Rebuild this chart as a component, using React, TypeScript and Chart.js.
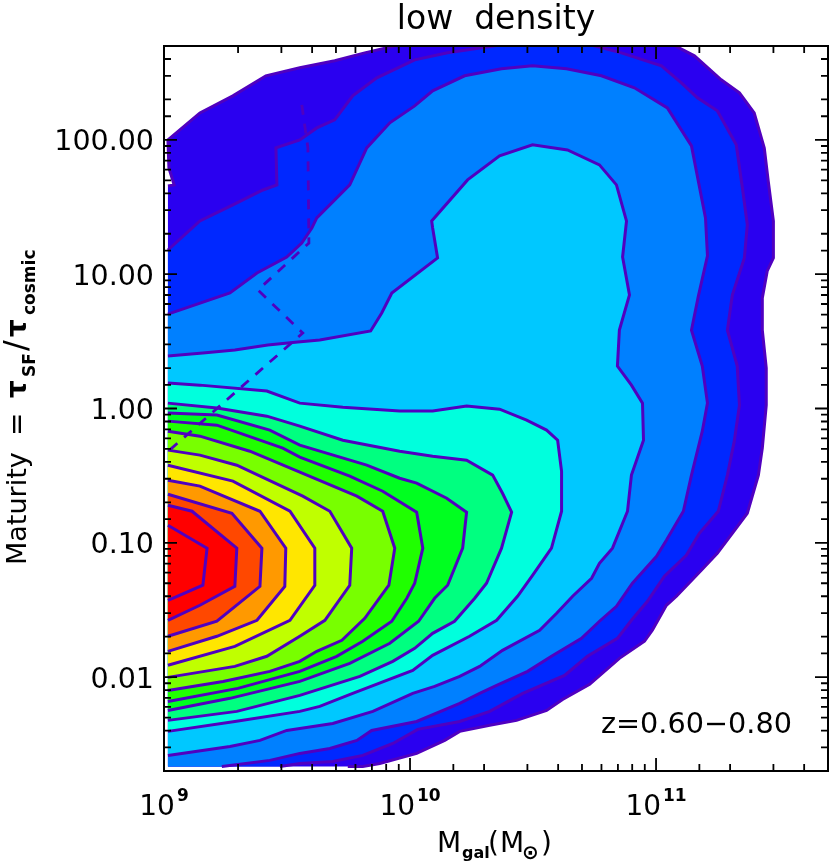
import React, { useEffect, useRef } from "react";
import { Chart, registerables } from "chart.js";

Chart.register(...registerables);

const FONT = '"DejaVu Sans"';
const LINE = "#5000c0";

// Contour levels: pairs of [log10 M_gal, log10 maturity].
const level1 = [[9.016,1.657],[9.041,1.665],[9.02,1.791],[9.016,2],[9.146,2.201],[9.28,2.328],[9.414,2.477],[9.552,2.537],[9.694,2.589],[9.816,2.648],[9.958,2.708],[9.999,2.723],[10.08,2.83],[11.062,2.83],[11.062,2.715],[11.156,2.626],[11.265,2.447],[11.339,2.35],[11.399,2.201],[11.44,1.94],[11.456,1.694],[11.477,1.396],[11.477,1.121],[11.452,1.024],[11.432,0.823],[11.432,0.584],[11.448,0.301],[11.448,0.025],[11.432,-0.295],[11.416,-0.496],[11.371,-0.78],[11.31,-0.929],[11.249,-1.078],[11.184,-1.204],[11.083,-1.398],[11.042,-1.465],[10.985,-1.651],[10.953,-1.733],[10.851,-1.86],[10.73,-2.054],[10.62,-2.166],[10.555,-2.248],[10.433,-2.322],[10.324,-2.359],[10.202,-2.404],[10.141,-2.471],[10.027,-2.568],[9.877,-2.643],[9.808,-2.665],[9.747,-2.665]];
const level2 = [[9.016,1.18],[9.146,1.396],[9.28,1.516],[9.402,1.627],[9.459,1.665],[9.455,1.94],[9.552,2],[9.621,2.089],[9.694,2.149],[9.767,2.328],[9.865,2.462],[10.019,2.596],[10.153,2.648],[10.291,2.686],[10.425,2.723],[10.486,2.78],[10.648,2.78],[10.701,2.723],[10.859,2.648],[11.022,2.551],[11.103,2.425],[11.168,2.313],[11.249,2.216],[11.326,1.963],[11.351,1.642],[11.371,1.367],[11.359,1.121],[11.31,0.845],[11.29,0.584],[11.33,0.316],[11.339,0.025],[11.318,-0.243],[11.29,-0.496],[11.253,-0.765],[11.176,-0.929],[11.123,-1.093],[11.034,-1.249],[10.965,-1.435],[10.9,-1.577],[10.843,-1.711],[10.721,-1.845],[10.628,-1.987],[10.458,-2.121],[10.324,-2.255],[10.202,-2.33],[10.031,-2.389],[9.93,-2.494],[9.808,-2.583],[9.686,-2.628],[9.552,-2.643],[9.471,-2.665]];
const level3 = [[9.016,0.703],[9.268,0.86],[9.378,1.009],[9.499,1.128],[9.56,1.232],[9.601,1.344],[9.621,1.419],[9.755,1.665],[9.824,1.94],[9.918,2.127],[10.019,2.253],[10.092,2.365],[10.222,2.477],[10.372,2.529],[10.498,2.551],[10.636,2.529],[10.778,2.477],[10.912,2.388],[11.046,2.238],[11.144,1.955],[11.201,1.419],[11.209,1.136],[11.172,0.837],[11.144,0.584],[11.188,0.316],[11.209,0.04],[11.188,-0.169],[11.144,-0.496],[11.111,-0.765],[11.042,-0.981],[11.002,-1.1],[10.904,-1.301],[10.839,-1.473],[10.77,-1.584],[10.697,-1.711],[10.575,-1.845],[10.478,-1.957],[10.352,-2.061],[10.283,-2.121],[10.202,-2.196],[10.027,-2.33],[9.844,-2.397],[9.784,-2.471],[9.674,-2.531],[9.552,-2.568],[9.43,-2.62],[9.235,-2.665]];
const level4 = [[9.016,0.39],[9.158,0.413],[9.288,0.435],[9.422,0.472],[9.544,0.495],[9.633,0.51],[9.84,0.577],[9.885,0.711],[9.926,0.86],[10.112,1.121],[10.092,1.344],[10.088,1.396],[10.234,1.702],[10.364,1.881],[10.498,1.963],[10.64,1.925],[10.77,1.814],[10.839,1.665],[10.88,1.396],[10.864,1.128],[10.892,0.845],[10.851,0.584],[10.843,0.316],[10.9,0.174],[10.945,0.04],[10.949,-0.236],[10.9,-0.496],[10.884,-0.765],[10.823,-1.04],[10.77,-1.152],[10.738,-1.264],[10.661,-1.398],[10.596,-1.525],[10.527,-1.651],[10.376,-1.801],[10.283,-1.92],[10.202,-1.994],[10.1,-2.069],[10.011,-2.121],[9.849,-2.255],[9.686,-2.345],[9.552,-2.382],[9.499,-2.397],[9.39,-2.471],[9.268,-2.516],[9.016,-2.583]];
const level5 = [[9.016,0.189],[9.146,0.174],[9.418,0.13],[9.552,0.04],[9.727,0.01],[9.958,-0.019],[10.092,-0.019],[10.23,0.018],[10.364,-0.005],[10.474,-0.087],[10.555,-0.161],[10.6,-0.236],[10.616,-0.467],[10.616,-0.765],[10.575,-1.04],[10.498,-1.242],[10.437,-1.398],[10.352,-1.577],[10.242,-1.696],[10.092,-1.838],[10.011,-1.95],[9.767,-2.121],[9.633,-2.218],[9.552,-2.255],[9.288,-2.33],[9.016,-2.404]];
const level6 = [[9.016,0.04],[9.215,0.003],[9.418,-0.057],[9.552,-0.131],[9.727,-0.236],[9.958,-0.318],[10.092,-0.355],[10.23,-0.385],[10.336,-0.496],[10.376,-0.631],[10.413,-0.772],[10.372,-1.04],[10.311,-1.301],[10.263,-1.413],[10.181,-1.584],[10.092,-1.674],[10.019,-1.786],[9.93,-1.883],[9.796,-1.994],[9.552,-2.136],[9.296,-2.255],[9.016,-2.322]];
const level7 = [[9.016,-0.034],[9.215,-0.049],[9.43,-0.161],[9.552,-0.273],[9.824,-0.422],[9.958,-0.519],[10.027,-0.556],[10.149,-0.668],[10.23,-0.772],[10.214,-1.04],[10.153,-1.316],[10.1,-1.413],[10.035,-1.584],[9.918,-1.748],[9.755,-1.897],[9.552,-2.032],[9.268,-2.158],[9.016,-2.248]];
const level8 = [[9.016,-0.094],[9.215,-0.124],[9.483,-0.295],[9.552,-0.362],[9.755,-0.504],[9.889,-0.616],[10.027,-0.772],[10.052,-1.04],[10.019,-1.301],[9.987,-1.413],[9.926,-1.584],[9.808,-1.733],[9.702,-1.845],[9.552,-1.957],[9.3,-2.084],[9.016,-2.181]];
const level9 = [[9.016,-0.169],[9.146,-0.206],[9.349,-0.318],[9.552,-0.474],[9.784,-0.653],[9.889,-0.765],[9.938,-1.04],[9.914,-1.316],[9.816,-1.562],[9.723,-1.726],[9.621,-1.808],[9.552,-1.883],[9.43,-1.957],[9.24,-2.032],[9.016,-2.099]];
const level10 = [[9.016,-0.31],[9.146,-0.347],[9.296,-0.422],[9.564,-0.653],[9.674,-0.765],[9.763,-1.04],[9.755,-1.316],[9.654,-1.577],[9.552,-1.696],[9.418,-1.845],[9.288,-1.92],[9.016,-2.002]];
const level11 = [[9.016,-0.422],[9.28,-0.541],[9.512,-0.765],[9.613,-1.04],[9.613,-1.316],[9.512,-1.577],[9.288,-1.771],[9.016,-1.912]];
const level12 = [[9.016,-0.534],[9.146,-0.578],[9.39,-0.765],[9.495,-1.04],[9.491,-1.324],[9.378,-1.577],[9.215,-1.696],[9.016,-1.808]];
const level13 = [[9.016,-0.638],[9.276,-0.78],[9.398,-1.04],[9.39,-1.324],[9.215,-1.584],[9.016,-1.696]];
const level14 = [[9.016,-0.72],[9.114,-0.765],[9.296,-1.04],[9.288,-1.324],[9.146,-1.465],[9.016,-1.577]];
const level15 = [[9.016,-0.869],[9.175,-1.04],[9.158,-1.316],[9.016,-1.428]];
const maturityTrack = [[9.56,2.261],[9.585,1.94],[9.589,1.232],[9.382,0.882],[9.564,0.562],[9.004,-0.34]];

const levels = [level1,level2,level3,level4,level5,level6,level7,level8,level9,level10,level11,level12,level13,level14,level15];
const levelColors = ["#2a00f0","#0028ff","#0080ff","#00c8ff","#00ffdd","#00ff80","#00ff20","#20ff00","#78ff00","#c0ff00","#ffe600","#ff9900","#ff4800","#ff0000","#ff0000"];

const toPoints = (pairs: number[][]) => pairs.map(([m, t]) => ({ x: 10 ** m, y: 10 ** t }));
const isDecade = (v: number) => Math.abs(Math.log10(v) - Math.round(Math.log10(v))) < 1e-6;

const contourFill = {
  id: "contourFill",
  beforeDatasetsDraw(chart: any) {
    const { ctx, chartArea: a, scales } = chart;
    ctx.save();
    ctx.beginPath();
    ctx.rect(a.left, a.top, a.right - a.left, a.bottom - a.top);
    ctx.clip();
    chart.data.datasets.forEach((ds: any) => {
      if (!ds.contour) return;
      const pts = ds.data;
      ctx.beginPath();
      pts.forEach((p: any, i: number) => {
        const x = scales.x.getPixelForValue(p.x);
        const y = scales.y.getPixelForValue(p.y);
        if (i) ctx.lineTo(x, y);
        else ctx.moveTo(x, y);
      });
      const first = pts[0];
      const last = pts[pts.length - 1];
      if (last.x > first.x * 1.01) {
        ctx.lineTo(scales.x.getPixelForValue(first.x), scales.y.getPixelForValue(last.y));
      }
      ctx.closePath();
      ctx.fillStyle = ds.backgroundColor;
      ctx.fill();
    });
    ctx.restore();
  },
};

const axesBox = {
  id: "axesBox",
  afterDatasetsDraw(chart: any) {
    const { ctx, chartArea: a, scales } = chart;
    ctx.save();
    ctx.strokeStyle = "#000";
    ctx.lineWidth = 1.8;
    ctx.beginPath();
    scales.x.ticks.forEach((t: any) => {
      const px = scales.x.getPixelForValue(t.value);
      const len = isDecade(t.value) ? 13 : 7;
      ctx.moveTo(px, a.bottom);
      ctx.lineTo(px, a.bottom - len);
      ctx.moveTo(px, a.top);
      ctx.lineTo(px, a.top + len);
    });
    scales.y.ticks.forEach((t: any) => {
      const py = scales.y.getPixelForValue(t.value);
      const len = isDecade(t.value) ? 13 : 7;
      ctx.moveTo(a.left, py);
      ctx.lineTo(a.left + len, py);
      ctx.moveTo(a.right, py);
      ctx.lineTo(a.right - len, py);
    });
    ctx.stroke();
    ctx.lineWidth = 2;
    ctx.strokeRect(a.left, a.top, a.right - a.left, a.bottom - a.top);
    ctx.restore();
  },
};

const xTitleParts: [string, string, number, number][] = [
  ["M", `28px ${FONT}`, 437, 852],
  ["gal", `bold 16px ${FONT}`, 462, 858],
  ["(", `28px ${FONT}`, 488, 852],
  ["M", `28px ${FONT}`, 500, 852],
  ["\u2299", `bold 20px ${FONT}`, 522, 859],
  [")", `28px ${FONT}`, 541, 852],
];
const yTitleParts: [string, string, number, number][] = [
  ["Maturity", `27px ${FONT}`, 565, 26],
  ["=", `28px ${FONT}`, 436, 26],
  ["\u03c4", `bold 28px ${FONT}`, 398, 26],
  ["SF", `bold 17px ${FONT}`, 377, 35],
  ["/", `32px ${FONT}`, 351, 26],
  ["\u03c4", `bold 28px ${FONT}`, 337, 26],
  ["cosmic", `bold 17px ${FONT}`, 315, 35],
];
const redshiftLabel = "z=0.60\u22120.80";

const axisText = {
  id: "axisText",
  afterDraw(chart: any) {
    const { ctx, scales, chartArea } = chart;
    ctx.save();
    ctx.fillStyle = "#000";
    ctx.textBaseline = "alphabetic";
    ctx.textAlign = "left";
    scales.x.ticks.forEach((t: any) => {
      if (!isDecade(t.value)) return;
      const px = scales.x.getPixelForValue(t.value);
      const exp = String(Math.round(Math.log10(t.value)));
      ctx.font = `28px ${FONT}`;
      const w1 = ctx.measureText("10").width;
      ctx.font = `bold 17px ${FONT}`;
      const w2 = ctx.measureText(exp).width;
      const start = px - (w1 + 2 + w2) / 2;
      ctx.font = `28px ${FONT}`;
      ctx.fillText("10", start, 815);
      ctx.font = `bold 17px ${FONT}`;
      ctx.fillText(exp, start + w1 + 2, 801);
    });
    ctx.textAlign = "right";
    ctx.font = `28.5px ${FONT}`;
    scales.y.ticks.forEach((t: any) => {
      if (!isDecade(t.value)) return;
      ctx.fillText(Number(t.value).toFixed(2), chartArea.left - 10, scales.y.getPixelForValue(t.value) + 10.5);
    });
    ctx.textAlign = "left";
    xTitleParts.forEach(([s, f, x, y]) => {
      ctx.font = f;
      ctx.fillText(s, x, y);
    });
    yTitleParts.forEach(([s, f, along, base]) => {
      ctx.save();
      ctx.translate(base, along);
      ctx.rotate(-Math.PI / 2);
      ctx.font = f;
      ctx.fillText(s, 0, 0);
      ctx.restore();
    });
    ctx.font = `28.7px ${FONT}`;
    ctx.fillText(redshiftLabel, 601, 733);
    ctx.restore();
  },
};

export default function App() {
  const ref = useRef<HTMLCanvasElement>(null);
  useEffect(() => {
    const datasets: any[] = levels.map((pairs, i) => ({
      label: `level ${i + 1}`,
      data: toPoints(pairs),
      contour: true,
      showLine: true,
      fill: false,
      tension: 0,
      pointRadius: 0,
      borderColor: LINE,
      backgroundColor: levelColors[i],
      borderWidth: 3,
      order: levels.length - i,
    }));
    datasets.push({
      label: "track",
      data: toPoints(maturityTrack),
      showLine: true,
      fill: false,
      tension: 0,
      pointRadius: 0,
      borderColor: LINE,
      borderWidth: 2.8,
      borderDash: [10, 9],
      order: 0,
    });
    const chart = new Chart(ref.current as HTMLCanvasElement, {
      type: "scatter",
      data: { datasets },
      plugins: [contourFill, axesBox, axisText],
      options: {
        animation: false,
        responsive: false,
        layout: { padding: { left: 0, right: 2, top: 0, bottom: 0 } },
        plugins: {
          legend: { display: false },
          tooltip: { enabled: false },
          title: {
            display: true,
            text: "low  density",
            fullSize: false,
            color: "#000",
            font: { family: FONT, size: 33, weight: "normal", lineHeight: 1 },
            padding: { top: 4, bottom: 9 },
          },
        },
        scales: {
          x: {
            type: "logarithmic",
            min: 1e9,
            max: 5e11,
            grid: { display: false },
            border: { display: false },
            ticks: { display: false, autoSkip: false },
            afterFit: (s: any) => { s.height = 96; },
          },
          y: {
            type: "logarithmic",
            min: 0.002,
            max: 500,
            grid: { display: false, drawTicks: false },
            border: { display: false },
            ticks: { display: false, autoSkip: false },
            afterFit: (s: any) => { s.width = 164; },
          },
        },
      } as any,
    });
    return () => chart.destroy();
  }, []);
  return (
    <div style={{ position: "absolute", left: 0, top: 0, width: 830, height: 867, background: "#fff" }}>
      <canvas ref={ref} width={830} height={867} style={{ display: "block" }} />
    </div>
  );
}
